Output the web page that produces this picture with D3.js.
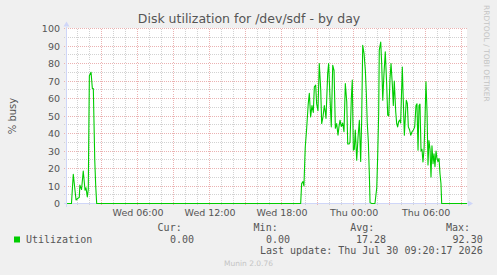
<!DOCTYPE html>
<html>
<head>
<meta charset="utf-8">
<script src="https://cdn.jsdelivr.net/npm/d3@7"></script>
<style>
  body { margin: 0; background: #f0f0f0; }
  svg { display: block; }
</style>
</head>
<body>
<div id="chart"></div>
<script>
// values (hours since Wed 00:00, % busy)
const title = 'Disk utilization for /dev/sdf - by day';
const yLabel = '% busy';
const seriesName = 'Utilization';
const statNames = ['Cur:', 'Min:', 'Avg:', 'Max:'];
const statValues = ['0.00', '0.00', '17.28', '92.30'];
const lastUpdate = 'Last update: Thu Jul 30 09:20:17 2026';
const credit = 'Munin 2.0.76';
const watermark = 'RRDTOOL / TOBI OETIKER';
const yTicks = [0, 10, 20, 30, 40, 50, 60, 70, 80, 90, 100];

const hours = [
  0.12, 0.49, 0.64, 0.87, 1.03, 1.14, 1.19, 1.33, 1.47, 1.62, 1.70, 1.81, 1.89, 1.98,
  2.12, 2.23, 2.31, 2.43, 2.51, 2.59,
  19.59, 19.67, 19.78, 19.86, 19.97, 20.09, 20.22, 20.31, 20.42, 20.53, 20.64, 20.73,
  20.84, 20.92, 21.03, 21.14, 21.26, 21.34, 21.45, 21.56, 21.64, 21.70, 21.84, 21.92,
  22.03, 22.14, 22.26, 22.37, 22.48, 22.59, 22.70, 22.78, 22.87, 22.97, 23.09, 23.20,
  23.31, 23.43, 23.51, 23.62, 23.70, 23.81, 23.89, 23.98, 24.06, 24.14, 24.26, 24.37,
  24.48, 24.59, 24.67, 24.76, 24.87, 24.98, 25.06, 25.14, 25.23, 25.31, 25.37, 25.51,
  25.78, 25.93, 26.01, 26.09, 26.14, 26.26, 26.34, 26.43, 26.53, 26.64, 26.76, 26.84,
  26.93, 27.03, 27.12, 27.23, 27.31, 27.39, 27.51, 27.59, 27.67, 27.76, 27.84, 27.92,
  28.06, 28.14, 28.23, 28.31, 28.39, 28.48, 28.56, 28.67, 28.76, 28.87, 28.98, 29.09,
  29.20, 29.28, 29.37, 29.45, 29.53, 29.62, 29.70, 29.78, 29.87, 29.95, 30.03, 30.12,
  30.20, 30.28, 30.37, 30.45, 30.53, 30.62, 30.70, 30.78, 30.87, 30.95, 31.03, 31.12,
  31.20, 31.28, 31.34, 33.45
];
const busy = [
  0, 0, 16.7, 2, 3, 3.5, 10.5, 8, 18.6, 7.6, 9, 3.8, 8, 73,
  75, 65.7, 65.7, 24.7, 10, 0,
  0, 11.4, 12.5, 10, 32, 43, 57, 63, 49.5, 56, 52, 66.7,
  67.6, 57, 53, 80, 65, 45.7, 49.5, 56, 52.4, 48.6, 74.3, 80,
  61, 43.8, 79, 76, 43, 45.7, 39, 43.8, 47.6, 44, 46, 41,
  68.6, 58, 34, 34, 35, 60, 70.5, 30.5, 31, 42, 24.7, 38,
  47.6, 24, 47, 90.4, 85.7, 76, 63, 45.7, 35, 17, 0.5, 0,
  0, 9, 28, 51.4, 87.6, 92.3, 80, 59, 74, 86.7, 67.6, 50.5,
  50, 71, 80, 67.6, 56, 70, 52.4, 45.7, 43.8, 47, 47.6, 46,
  78, 59, 39, 49.5, 59, 57, 43.8, 42, 39, 41, 42, 43.8,
  56, 57, 30.5, 56, 56.8, 30, 31, 23.8, 31, 47.6, 69.5, 52.4,
  22, 36, 31, 15.2, 33, 22.8, 28.4, 21, 30, 25.7, 24, 25.7,
  17, 11.4, 0, 0
];

const day0 = new Date(2026, 6, 29);
const toDate = h => new Date(+day0 + h * 3600e3);
const data = hours.map((h, i) => ({ date: toDate(h), value: busy[i] }));

const width = 497, height = 275;
const plot = { left: 67, right: 467, top: 28.5, bottom: 203.5 };
const axisColor = '#cfd6f8';
const fontColor = '#555';
const sans = 'DejaVu Sans, sans-serif';
const mono = 'DejaVu Sans Mono, monospace';

const x = d3.scaleTime()
  .domain([toDate(7 / 60), toDate(33 + 27 / 60)])
  .range([plot.left, plot.right]);

const y = d3.scaleLinear()
  .domain([0, 100])
  .range([plot.bottom, plot.top]);

const crisp = v => Math.round(v - 0.5) + 0.5;

const svg = d3.select('#chart').append('svg')
  .attr('width', width)
  .attr('height', height)
  .attr('viewBox', [0, 0, width, height]);

svg.append('rect')
  .attr('width', width).attr('height', height)
  .attr('fill', '#f0f0f0');

svg.append('rect')
  .attr('x', plot.left).attr('y', plot.top - 0.5)
  .attr('width', plot.right - plot.left).attr('height', plot.bottom - plot.top)
  .attr('fill', '#ffffff');

// grid
const hourTicks = d3.timeHour.range(x.domain()[0], x.domain()[1]);
const grid = svg.append('g')
  .attr('stroke-dasharray', '1,1')
  .attr('shape-rendering', 'crispEdges')
  .attr('stroke-width', 1);

grid.selectAll('.vgrid')
  .data(hourTicks)
  .join('line')
  .attr('x1', d => crisp(x(d))).attr('x2', d => crisp(x(d)))
  .attr('y1', plot.top).attr('y2', plot.bottom + 2.5)
  .attr('stroke', d => d.getHours() % 3 === 0 ? '#ebb2b2' : '#d2d2d2');

const yMinor = d3.range(5, 101, 5);
grid.selectAll('.hgrid')
  .data(yMinor)
  .join('line')
  .attr('x1', plot.left - 3).attr('x2', plot.right)
  .attr('y1', d => crisp(y(d))).attr('y2', d => crisp(y(d)))
  .attr('stroke', d => d % 10 === 0 ? '#ebb2b2' : '#d2d2d2');

// axes lines with arrows
svg.append('line')
  .attr('x1', plot.left - 3).attr('x2', plot.right + 2)
  .attr('y1', crisp(plot.bottom)).attr('y2', crisp(plot.bottom))
  .attr('stroke', axisColor).attr('shape-rendering', 'crispEdges');
svg.append('path')
  .attr('d', `M${plot.right + 1},${crisp(plot.bottom) - 3}L${plot.right + 6},${crisp(plot.bottom)}L${plot.right + 1},${crisp(plot.bottom) + 3}Z`)
  .attr('fill', axisColor);
svg.append('line')
  .attr('x1', crisp(plot.left) - 1).attr('x2', crisp(plot.left) - 1)
  .attr('y1', plot.bottom + 3).attr('y2', plot.top - 2)
  .attr('stroke', axisColor).attr('shape-rendering', 'crispEdges');
svg.append('path')
  .attr('d', `M${crisp(plot.left) - 4},${plot.top - 2}L${crisp(plot.left) - 1},${plot.top - 7}L${crisp(plot.left) + 2},${plot.top - 2}Z`)
  .attr('fill', axisColor);

// axis labels
const xAxis = g => g
  .attr('transform', `translate(0,${plot.bottom})`)
  .call(d3.axisBottom(x)
    .tickValues(hourTicks.filter(d => d.getHours() % 6 === 0))
    .tickFormat(d3.timeFormat('%a %H:%M'))
    .tickSize(0).tickPadding(6))
  .call(g => g.select('.domain').remove())
  .call(g => g.selectAll('text')
    .attr('fill', fontColor)
    .attr('font-family', sans)
    .attr('font-size', 9.5));

const yAxis = g => g
  .attr('transform', `translate(${plot.left - 7},0)`)
  .call(d3.axisLeft(y).tickValues(yTicks).tickSize(0).tickPadding(0))
  .call(g => g.select('.domain').remove())
  .call(g => g.selectAll('text')
    .attr('fill', fontColor)
    .attr('font-family', sans)
    .attr('font-size', 9.5));

svg.append('g').call(xAxis);
svg.append('g').call(yAxis);

// series
const line = d3.line()
  .x(d => x(d.date))
  .y(d => y(d.value));

svg.append('path')
  .datum(data)
  .attr('fill', 'none')
  .attr('stroke', '#00cc00')
  .attr('stroke-width', 1.1)
  .attr('stroke-linejoin', 'round')
  .attr('d', line);

// titles
svg.append('text')
  .attr('x', 249).attr('y', 22.5)
  .attr('text-anchor', 'middle')
  .attr('font-family', sans).attr('font-size', 12.5)
  .attr('fill', fontColor)
  .text(title);

svg.append('text')
  .attr('transform', 'translate(16,116) rotate(-90)')
  .attr('text-anchor', 'middle')
  .attr('font-family', sans).attr('font-size', 10)
  .attr('fill', fontColor)
  .text(yLabel);

svg.append('text')
  .attr('transform', 'translate(484,5) rotate(90)')
  .attr('text-anchor', 'start')
  .attr('font-family', sans).attr('font-size', 7.5)
  .attr('fill', '#c4c4c4')
  .text(watermark);

// legend
svg.append('rect')
  .attr('x', 14).attr('y', 236.5).attr('width', 6).attr('height', 6)
  .attr('fill', '#00cc00');

svg.append('text')
  .attr('x', 26).attr('y', 242.5)
  .attr('font-family', mono).attr('font-size', 10)
  .attr('fill', fontColor)
  .text(seriesName);

const statX = [181.7, 277.7, 374.3, 470];
const valX = [194, 290, 386, 482.7];
svg.append('g').selectAll('text')
  .data(statNames)
  .join('text')
  .attr('x', (d, i) => statX[i]).attr('y', 231)
  .attr('text-anchor', 'end')
  .attr('font-family', mono).attr('font-size', 10)
  .attr('fill', fontColor)
  .text(d => d);

svg.append('g').selectAll('text')
  .data(statValues)
  .join('text')
  .attr('x', (d, i) => valX[i]).attr('y', 242.5)
  .attr('text-anchor', 'end')
  .attr('font-family', mono).attr('font-size', 10)
  .attr('fill', fontColor)
  .text(d => d);

svg.append('text')
  .attr('x', 482.7).attr('y', 254)
  .attr('text-anchor', 'end')
  .attr('font-family', mono).attr('font-size', 10)
  .attr('fill', fontColor)
  .text(lastUpdate);

svg.append('text')
  .attr('x', 248.5).attr('y', 266)
  .attr('text-anchor', 'middle')
  .attr('font-family', sans).attr('font-size', 7.5)
  .attr('fill', '#c4c4c4')
  .text(credit);
</script>
</body>
</html>
